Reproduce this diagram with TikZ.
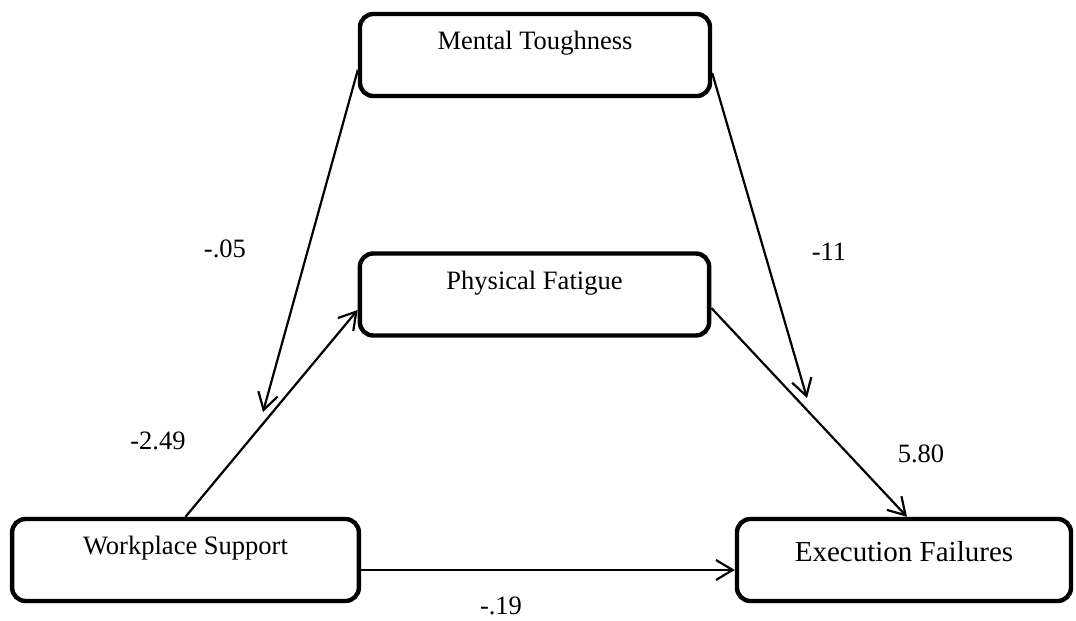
\documentclass[tikz,border=0pt]{standalone}
\usepackage{fontspec}
\setmainfont{Liberation Serif}
\usetikzlibrary{arrows.meta,calc}
\begin{document}
\begin{tikzpicture}[x=0.75pt,y=-0.75pt,
  box/.style={draw, line width=3.3pt, rounded corners=10pt, minimum height=61.5pt, inner sep=0pt},
  boxtext/.style={font=\fontsize{19.9pt}{24pt}\selectfont},
  bigtext/.style={font=\fontsize{21.75pt}{26pt}\selectfont},
  conn/.style={line width=1.65pt, -{Straight Barb[length=12.5pt,width=15pt]}},
  coef/.style={font=\fontsize{19.9pt}{24pt}\selectfont, inner sep=0pt}]
  \useasboundingbox (0,0) rectangle (1076,621);
  \fill[white] (0,0) rectangle (1076,621);

  % variable boxes
  \node[box, minimum width=262.5pt] (mt) at (535,55) {};
  \node[box, minimum width=262pt] (pf) at (534.5,294.5) {};
  \node[box, minimum width=260pt] (ws) at (185.5,560) {};
  \node[box, minimum width=250.5pt] (ef) at (904,560) {};

  \node[boxtext] (mt-t) at ($(mt.center)+(0,-12)$) {Mental Toughness};
  \node[boxtext] (pf-t) at ($(pf.center)+(0,-11.5)$) {Physical Fatigue};
  \node[boxtext] (ws-t) at ($(ws.center)+(0,-12)$) {Workplace Support};
  \node[bigtext] (ef-t) at ($(ef.center)+(0,-8)$) {Execution Failures};

  % moderation targets on the a- and b-paths
  \coordinate (moda) at (263,412);
  \coordinate (modb) at (807,398);

  % paths
  \draw[conn] (ws.north) -- ($(pf.west)+(0,15.5)$);
  \draw[conn] ($(pf.east)+(0,13.5)$) -- ($(ef.north)+(3,0)$);
  \draw[conn] ($(ws.east)+(0,10)$) -- ($(ef.west)+(0,10)$);
  \draw[conn] ($(mt.west)+(0,15)$) -- (moda);
  \draw[conn] ($(mt.east)+(0,18)$) -- (modb);

  % coefficients
  \node[coef] (c1) at (225,249) {-.05};
  \node[coef] (c2) at (829,252) {-11};
  \node[coef] (c3) at (158,441) {-2.49};
  \node[coef] (c4) at (921,454) {5.80};
  \node[coef] (c5) at (501,606) {-.19};
\end{tikzpicture}
\end{document}
